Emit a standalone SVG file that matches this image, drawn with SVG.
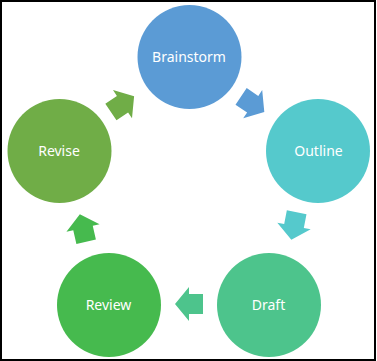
<svg xmlns="http://www.w3.org/2000/svg" width="377" height="361" viewBox="0 0 377 361">
<style>
.lbl{font-family:"Noto Sans","Open Sans",sans-serif;font-size:14px;fill:#ffffff;text-anchor:middle}
</style>
<defs>
<polygon id="arr" points="-14,-10 0,-10 0,-17 14,0 0,17 0,10 -14,10"/>
</defs>
<rect x="1" y="1" width="374" height="359" fill="#ffffff" stroke="#000000" stroke-width="2"/>
<g id="connectors">
<use href="#arr" fill="#5B9BD5" transform="translate(252.7,104.2) rotate(34)"/>
<use href="#arr" fill="#55C9CC" transform="translate(294,226) rotate(101)"/>
<use href="#arr" fill="#4DC48C" transform="translate(189,304) rotate(180)"/>
<use href="#arr" fill="#46BA4E" transform="translate(83,228) rotate(257)"/>
<use href="#arr" fill="#70AD47" transform="translate(122.5,104.2) rotate(326)"/>
</g>
<g id="brainstorm">
<circle cx="189.5" cy="57" r="52" fill="#5B9BD5"/>
<text class="lbl" x="189" y="62">Brainstorm</text>
</g>
<g id="outline">
<circle cx="318" cy="151" r="52" fill="#55C9CC"/>
<text class="lbl" x="318.5" y="156">Outline</text>
</g>
<g id="draft">
<circle cx="269" cy="305" r="52" fill="#4DC48C"/>
<text class="lbl" x="268.5" y="310">Draft</text>
</g>
<g id="review">
<circle cx="109" cy="305" r="52" fill="#46BA4E"/>
<text class="lbl" x="108.5" y="310">Review</text>
</g>
<g id="revise">
<circle cx="59.5" cy="151" r="52" fill="#70AD47"/>
<text class="lbl" x="59" y="156">Revise</text>
</g>
</svg>
